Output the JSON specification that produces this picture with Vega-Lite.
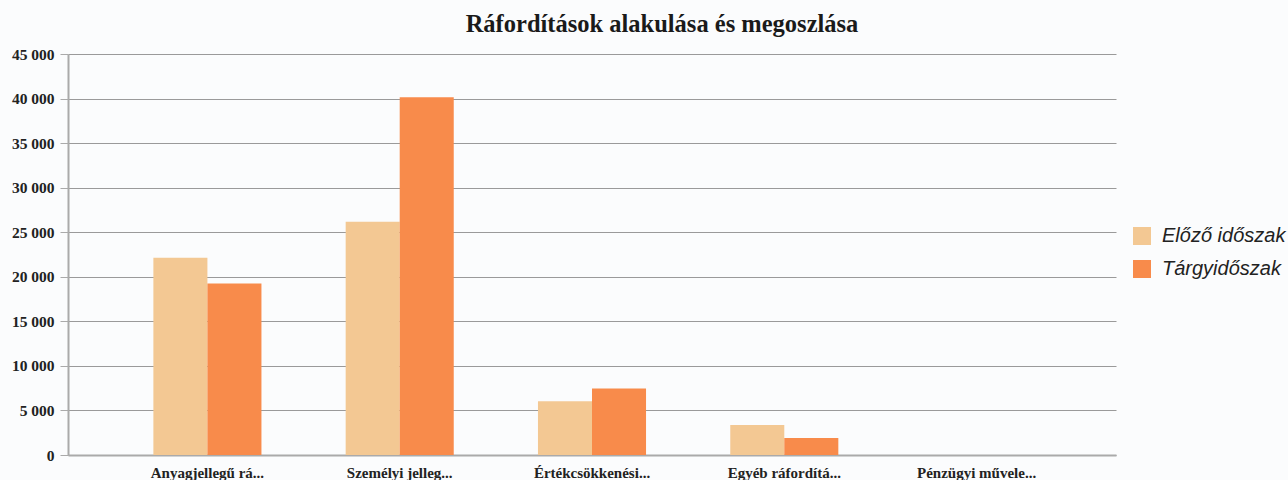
{
  "$schema": "https://vega.github.io/schema/vega-lite/v6.json",
  "autosize": {"type": "none"},
  "padding": {"left": 68, "top": 54, "right": 172, "bottom": 25},
  "width": 1048,
  "height": 401,
  "background": "#fbfcfd",
  "title": {
    "text": "Ráfordítások alakulása és megoszlása",
    "font": "Liberation Serif",
    "fontSize": 24.5,
    "fontWeight": "bold",
    "color": "#1a1a1a",
    "anchor": "middle",
    "dx": 70,
    "dy": 32,
    "baseline": "alphabetic",
    "offset": 23
  },
  "data": {
    "values": [
      {"kategoria": "Anyagjellegű rá...", "idoszak": "Előző időszak", "ertek": 22130},
      {"kategoria": "Anyagjellegű rá...", "idoszak": "Tárgyidőszak", "ertek": 19250},
      {"kategoria": "Személyi jelleg...", "idoszak": "Előző időszak", "ertek": 26170},
      {"kategoria": "Személyi jelleg...", "idoszak": "Tárgyidőszak", "ertek": 40150},
      {"kategoria": "Értékcsökkenési...", "idoszak": "Előző időszak", "ertek": 6030},
      {"kategoria": "Értékcsökkenési...", "idoszak": "Tárgyidőszak", "ertek": 7450},
      {"kategoria": "Egyéb ráfordítá...", "idoszak": "Előző időszak", "ertek": 3370},
      {"kategoria": "Egyéb ráfordítá...", "idoszak": "Tárgyidőszak", "ertek": 1910},
      {"kategoria": "Pénzügyi művele...", "idoszak": "Előző időszak", "ertek": 0},
      {"kategoria": "Pénzügyi művele...", "idoszak": "Tárgyidőszak", "ertek": 0}
    ]
  },
  "mark": {"type": "bar"},
  "encoding": {
    "x": {
      "field": "kategoria",
      "type": "nominal",
      "sort": null,
      "scale": {"paddingInner": 0.438, "paddingOuter": 0.444},
      "axis": {
        "title": null,
        "labelAngle": 0,
        "labelFont": "Liberation Serif",
        "labelFontWeight": "bold",
        "labelFontSize": 15,
        "labelColor": "#222",
        "labelPadding": 10,
        "ticks": false,
        "domainColor": "#aaaaaa",
        "domainWidth": 2
      }
    },
    "xOffset": {
      "field": "idoszak",
      "type": "nominal",
      "sort": ["Előző időszak", "Tárgyidőszak"],
      "scale": {"paddingInner": 0, "paddingOuter": 0}
    },
    "y": {
      "field": "ertek",
      "type": "quantitative",
      "scale": {"domain": [0, 45000], "nice": false},
      "axis": {
        "title": null,
        "values": [0, 5000, 10000, 15000, 20000, 25000, 30000, 35000, 40000, 45000],
        "labelExpr": "replace(format(datum.value, ','), ',', ' ')",
        "labelFont": "Liberation Serif",
        "labelFontWeight": "bold",
        "labelFontSize": 15.5,
        "labelColor": "#222",
        "labelPadding": 6,
        "tickSize": 8,
        "tickColor": "#aaaaaa",
        "domainColor": "#aaaaaa",
        "domainWidth": 2,
        "gridColor": "#9a9a9a",
        "gridWidth": 1
      }
    },
    "color": {
      "field": "idoszak",
      "type": "nominal",
      "sort": ["Előző időszak", "Tárgyidőszak"],
      "scale": {"domain": ["Előző időszak", "Tárgyidőszak"], "range": ["#f3c893", "#f88b4b"]},
      "legend": {
        "title": null,
        "orient": "none",
        "legendX": 1064,
        "legendY": 172,
        "symbolType": "square",
        "symbolSize": 324,
        "symbolStrokeWidth": 0,
        "labelFont": "Liberation Sans",
        "labelFontStyle": "italic",
        "labelFontSize": 20,
        "labelColor": "#222",
        "labelOffset": 10,
        "rowPadding": 13,
        "padding": 0
      }
    }
  },
  "config": {"view": {"stroke": null}, "axis": {"grid": true}, "axisX": {"grid": false}}
}
